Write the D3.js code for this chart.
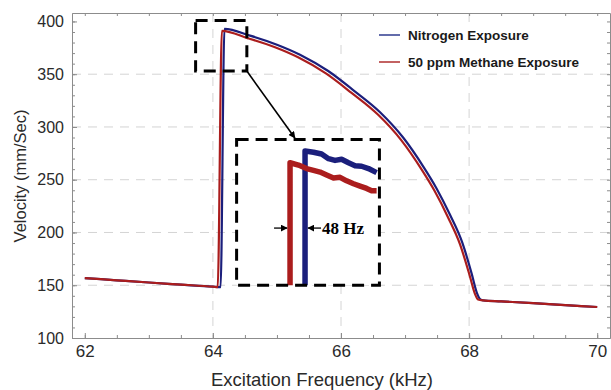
<!DOCTYPE html>
<html>
<head>
<meta charset="utf-8">
<script src="https://cdn.jsdelivr.net/npm/d3@7"></script>
<style>
  body { margin: 0; background: #fff; }
  text { font-family: "Liberation Sans", Arial, sans-serif; }
</style>
</head>
<body>
<div id="chart"></div>
<script>
// data
const freqN2 = [62.0, 62.5, 63.0, 63.5, 64.0, 64.12, 64.18, 64.58, 65.0, 65.36, 65.8, 66.19, 66.61, 66.97, 67.29, 67.49, 67.70, 67.89, 68.04, 68.12, 68.17, 68.22, 68.5, 69.0, 69.5, 70.0];
const velN2  = [156.8, 154.7, 152.6, 150.6, 148.6, 148.2, 393, 386.6, 378, 368.5, 353, 335, 314, 290, 262, 242, 217, 191, 161, 143, 137, 135.6, 134.7, 133, 131.2, 129.4];

const freqCH4 = [62.0, 62.5, 63.0, 63.5, 64.0, 64.075, 64.14, 64.55, 64.97, 65.33, 65.77, 66.16, 66.58, 66.94, 67.26, 67.46, 67.67, 67.86, 68.01, 68.09, 68.14, 68.22, 68.5, 69.0, 69.5, 70.0];
const velCH4  = [156.8, 154.7, 152.6, 150.6, 148.6, 148.2, 391, 384, 375.5, 366, 350.5, 332.5, 311.5, 287.5, 259.5, 239.5, 214.5, 188.5, 159, 142, 136.5, 135.6, 134.7, 133, 131.2, 129.4];

// zoomed detail of the jump (inset)
const insetFreqN2 = [64.148, 64.148, 64.175, 64.201, 64.223, 64.244, 64.265, 64.287, 64.308, 64.329, 64.351, 64.377];
const insetVelN2  = [148, 393.0, 392.8, 392.5, 391.7, 391.4, 391.6, 391.0, 390.5, 390.4, 390.0, 389.3];
const insetFreqCH4 = [64.100, 64.100, 64.127, 64.153, 64.175, 64.196, 64.217, 64.239, 64.260, 64.281, 64.303, 64.324, 64.345, 64.361, 64.377];
const insetVelCH4  = [148, 391.0, 390.6, 390.0, 389.7, 389.4, 388.9, 388.4, 388.5, 387.9, 387.4, 387.0, 386.6, 386.2, 386.2];

const seriesNames = ["Nitrogen Exposure", "50 ppm Methane Exposure"];
const xTicks = [62, 64, 66, 68, 70];
const yTicks = [100, 150, 200, 250, 300, 350, 400];
const xGrid = [64, 66, 68];
const yGrid = [150, 200, 250, 300, 350];

const blue = "#1b1f7c", red = "#ab1d1d";

// set the dimensions and margins of the graph
const margin = {top: 13, right: 1, bottom: 52, left: 72},
    width = 611 - margin.left - margin.right,
    height = 390 - margin.top - margin.bottom;

const svg = d3.select("#chart")
  .append("svg")
    .attr("width", 611)
    .attr("height", 390)
  .append("g")
    .attr("transform", `translate(${margin.left},${margin.top})`);

const x = d3.scaleLinear().domain([61.8, 70.2]).range([0, width]);
const y = d3.scaleLinear().domain([100, 408]).range([height, 0]);

// grid
svg.append("g").selectAll("line").data(xGrid).join("line")
    .attr("x1", d => x(d)).attr("x2", d => x(d))
    .attr("y1", 0).attr("y2", height)
    .attr("stroke", "#d4d4d4").attr("stroke-dasharray", "9,7");
svg.append("g").selectAll("line").data(yGrid).join("line")
    .attr("x1", 0).attr("x2", width)
    .attr("y1", d => y(d)).attr("y2", d => y(d))
    .attr("stroke", "#d4d4d4").attr("stroke-dasharray", "9,7");

// axes (frame on all four sides, ticks inward)
const xMinor = d3.range(62, 70.01, 0.5);
const yMinor = d3.range(100, 408, 10);
function frameAxis(axisFn, scale, values, size, fmt, transform, fontSize) {
  const g = svg.append("g").attr("transform", transform)
    .call(axisFn(scale).tickValues(values).tickSize(size).tickSizeOuter(0)
      .tickPadding(axisFn === d3.axisBottom ? 7 : 8).tickFormat(fmt));
  g.selectAll("path, line").attr("stroke", "#8c8c8c");
  g.selectAll("text").attr("fill", "#2a2a2a").style("font-size", fontSize || "17px");
  return g;
}
frameAxis(d3.axisBottom, x, xMinor, -3, "", `translate(0,${height})`);
frameAxis(d3.axisBottom, x, xTicks, -5, d3.format("d"), `translate(0,${height})`, "17px");
frameAxis(d3.axisTop, x, xMinor, -3, "", "translate(0,0)");
frameAxis(d3.axisLeft, y, yMinor, -3, "", "translate(0,0)");
frameAxis(d3.axisLeft, y, yTicks, -5, d3.format("d"), "translate(0,0)", "16px");
frameAxis(d3.axisRight, y, yMinor, -3, "", `translate(${width},0)`);

// lines
const line = d3.line().x(d => x(d[0])).y(d => y(d[1])).curve(d3.curveMonotoneX);
svg.append("path")
    .datum(d3.zip(freqN2, velN2))
    .attr("fill", "none").attr("stroke", blue).attr("stroke-width", 2.2)
    .attr("d", line);
svg.append("path")
    .datum(d3.zip(freqCH4, velCH4))
    .attr("fill", "none").attr("stroke", red).attr("stroke-width", 2.2)
    .attr("d", line);

// legend
const legend = svg.append("g");
legend.append("rect")
    .attr("x", x(66.25)).attr("y", 10).attr("width", width - x(66.25) - 6).attr("height", 48)
    .attr("fill", "#fff");
seriesNames.forEach((name, i) => {
  const ly = 22 + i * 27;
  legend.append("line")
      .attr("x1", 307).attr("x2", 328).attr("y1", ly).attr("y2", ly)
      .attr("stroke", i === 0 ? "#3b4796" : "#b43a3a").attr("stroke-width", 1.6);
  legend.append("text")
      .attr("x", 336).attr("y", ly).attr("dy", "0.35em")
      .style("font-size", "13.5px").style("font-weight", "bold")
      .attr("fill", "#1a1a1a")
      .text(name);
});

// small zoom box and the inset it points to
const zoomBox = {x0: 63.73, x1: 64.53, y0: 353, y1: 401};
const insetBox = {x0: 64.37, x1: 66.6, y0: 150, y1: 288.2};

svg.append("rect")
    .attr("x", x(zoomBox.x0)).attr("y", y(zoomBox.y1))
    .attr("width", x(zoomBox.x1) - x(zoomBox.x0)).attr("height", y(zoomBox.y0) - y(zoomBox.y1))
    .attr("fill", "none").attr("stroke", "#000").attr("stroke-width", 3)
    .attr("stroke-dasharray", "12,7");

svg.append("defs").append("marker")
    .attr("id", "arrow").attr("viewBox", "0 0 10 10")
    .attr("refX", 9).attr("refY", 5)
    .attr("markerWidth", 7).attr("markerHeight", 7)
    .attr("markerUnits", "userSpaceOnUse")
    .attr("orient", "auto")
  .append("path").attr("d", "M0,0L10,5L0,10z").attr("fill", "#000");

svg.append("line")
    .attr("x1", x(zoomBox.x1)).attr("y1", y(zoomBox.y0))
    .attr("x2", x(65.28)).attr("y2", y(289.5))
    .attr("stroke", "#000").attr("stroke-width", 1.6)
    .attr("marker-end", "url(#arrow)");

svg.append("rect")
    .attr("x", x(insetBox.x0)).attr("y", y(insetBox.y1))
    .attr("width", x(insetBox.x1) - x(insetBox.x0)).attr("height", y(insetBox.y0) - y(insetBox.y1))
    .attr("fill", "#fff");

const ix = d3.scaleLinear().domain([63.929, 64.386]).range([x(insetBox.x0), x(insetBox.x1)]);
const iy = d3.scaleLinear().domain([370, 395]).range([y(insetBox.y0), y(insetBox.y1)]).clamp(true);
const insetLine = d3.line().x(d => ix(d[0])).y(d => iy(d[1]));

svg.append("path")
    .datum(d3.zip(insetFreqN2, insetVelN2))
    .attr("fill", "none").attr("stroke", blue).attr("stroke-width", 5.5)
    .attr("stroke-linejoin", "round")
    .attr("d", insetLine);
svg.append("path")
    .datum(d3.zip(insetFreqCH4, insetVelCH4))
    .attr("fill", "none").attr("stroke", red).attr("stroke-width", 5.5)
    .attr("stroke-linejoin", "round")
    .attr("d", insetLine);

svg.append("rect")
    .attr("x", x(insetBox.x0)).attr("y", y(insetBox.y1))
    .attr("width", x(insetBox.x1) - x(insetBox.x0)).attr("height", y(insetBox.y0) - y(insetBox.y1))
    .attr("fill", "none").attr("stroke", "#000").attr("stroke-width", 3)
    .attr("stroke-dasharray", "12,7");

// 48 Hz marker
const ay = iy(379.8);
svg.append("line")
    .attr("x1", ix(64.100) - 16).attr("x2", ix(64.100) - 3)
    .attr("y1", ay).attr("y2", ay)
    .attr("stroke", "#000").attr("stroke-width", 1.3).attr("marker-end", "url(#arrow)");
svg.append("line")
    .attr("x1", ix(64.148) + 16).attr("x2", ix(64.148) + 3)
    .attr("y1", ay).attr("y2", ay)
    .attr("stroke", "#000").attr("stroke-width", 1.3).attr("marker-end", "url(#arrow)");
svg.append("text")
    .attr("x", ix(64.148) + 17).attr("y", ay).attr("dy", "0.35em")
    .style("font-family", "'Liberation Serif', 'Times New Roman', serif")
    .style("font-size", "17px").style("font-weight", "bold")
    .text("48 Hz");

// axis labels
svg.append("text")
    .attr("text-anchor", "middle")
    .attr("x", 250)
    .attr("y", height + 48)
    .attr("fill", "#2a2a2a")
    .style("font-size", "18.5px")
    .text("Excitation Frequency (kHz)");

svg.append("text")
    .attr("text-anchor", "middle")
    .attr("transform", "rotate(-90)")
    .attr("y", -margin.left + 26)
    .attr("x", -163)
    .attr("fill", "#2a2a2a")
    .style("font-size", "16.5px")
    .text("Velocity (mm/Sec)");
</script>
</body>
</html>
